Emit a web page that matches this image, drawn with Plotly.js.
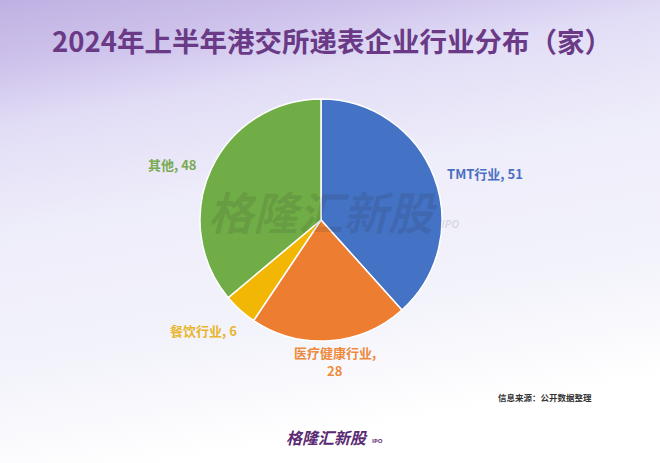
<!DOCTYPE html>
<html><head><meta charset="utf-8">
<script src="https://cdn.plot.ly/plotly-3.0.1.min.js"></script>
<style>
html,body{margin:0;padding:0;width:660px;height:463px;overflow:hidden;}
body{background:linear-gradient(170deg,#bfb0e2 0%,#cfc4ec 12%,#e2ddf6 22%,#eeedfa 40%,#f3f3fb 65%,#ffffff 85%,#ffffff 100%);}
#chart{width:660px;height:463px;}
</style></head><body>
<div id="chart"></div>
<script>
const categories = ["TMT行业", "医疗健康行业", "餐饮行业", "其他"];
const values = [51, 28, 6, 48];
const colors = ["#4472c4", "#ed7d31", "#f2b705", "#70ad47"];
const labelColors = ["#4a6fc2", "#ee8a3c", "#e9b52a", "#7aaa52"];
const labelPos = [[485,173],[335,352],[203,330],[172,164]];
const labelSplit = [false, true, false, false];

const W=660,H=463;
const ann = [];
function note(text,x,y,font){ann.push({text:text,x:x/W,y:1-y/H,xref:'paper',yref:'paper',showarrow:false,xanchor:'center',yanchor:'middle',font:font});}
categories.forEach((c,i)=>{
  const f={family:'"Noto Sans CJK SC", "Open Sans", sans-serif', size:13, color:labelColors[i], weight:'bold'};
  if(labelSplit[i]){
    note(c+',',labelPos[i][0],labelPos[i][1],f);
    note(String(values[i]),labelPos[i][0],labelPos[i][1]+18,f);
  } else {
    note(c+', '+values[i],labelPos[i][0],labelPos[i][1],f);
  }
});
note('格隆汇新股',323,210,{family:'"Noto Sans CJK SC", sans-serif', size:45, color:'rgba(40,40,40,0.12)', weight:'bold', style:'italic'});
note('IPO',450,223,{family:'"Open Sans", sans-serif', size:11, color:'rgba(60,60,60,0.15)', weight:'bold', style:'italic'});
note('信息来源：公开数据整理',545,397,{family:'"Noto Sans CJK SC", sans-serif', size:8.5, color:'#333333', weight:'bold'});
note('格隆汇新股',327,437,{family:'"Noto Sans CJK SC", sans-serif', size:16, color:'#5a2a72', weight:'bold', style:'italic'});
note('IPO',377,441,{family:'"Open Sans", sans-serif', size:6, color:'#5a2a72', weight:'bold'});

const data=[{
  type:'pie', labels:categories, values:values, sort:false, direction:'clockwise', rotation:0,
  marker:{colors:colors, line:{color:'#ffffff', width:1.5}},
  textinfo:'none', hoverinfo:'label+value',
  domain:{x:[(321-121)/W,(321+121)/W], y:[1-(220+121)/H, 1-(220-121)/H]}
}];
const layout={
  width:W, height:H, margin:{l:0,r:0,t:0,b:0},
  paper_bgcolor:'rgba(0,0,0,0)', plot_bgcolor:'rgba(0,0,0,0)', showlegend:false,
  title:{text:'2024年上半年港交所递表企业行业分布（家）', x:0.503, xanchor:'center', y:1-42/H, yanchor:'middle',
    font:{family:'"Noto Sans CJK SC", sans-serif', size:27.5, color:'#6a3a86', weight:'bold'}},
  annotations:ann
};
Plotly.newPlot('chart',data,layout,{displayModeBar:false,staticPlot:true});
</script></body></html>
